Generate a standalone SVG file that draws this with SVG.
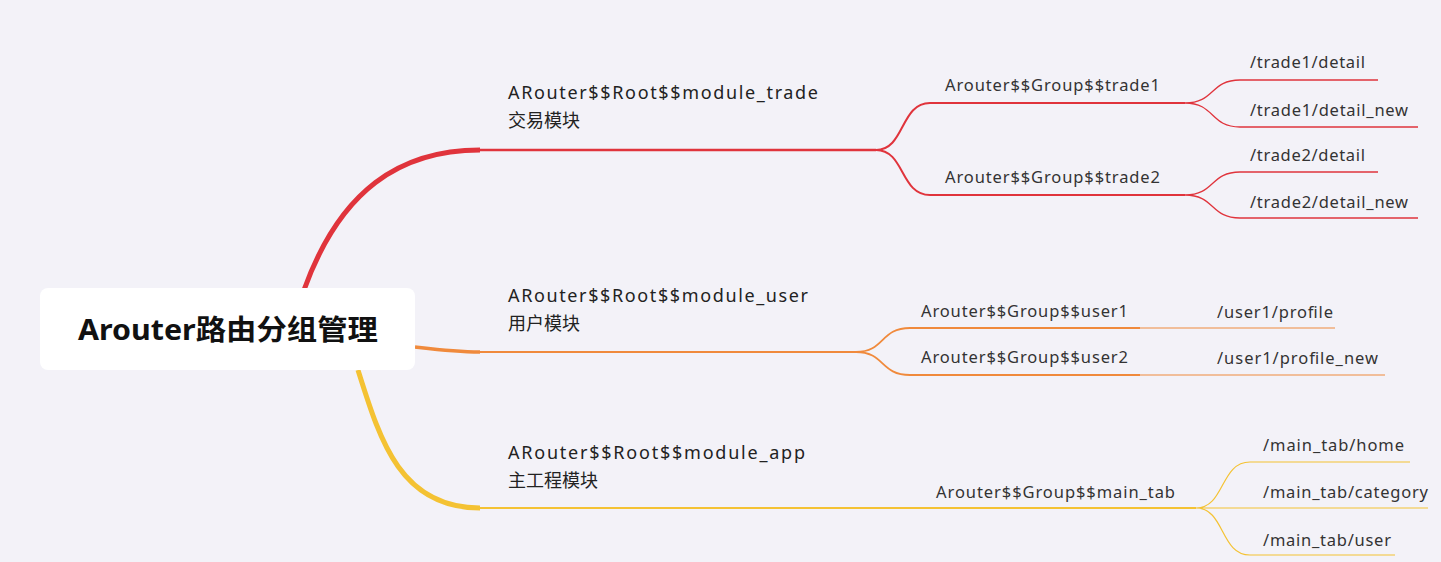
<svg xmlns="http://www.w3.org/2000/svg" width="1441" height="562" viewBox="0 0 1441 562">
<style>
text{font-family:"Noto Sans","Noto Sans CJK SC",sans-serif;fill:#222}
.m{font-size:18px}
.g{font-size:16.5px;fill:#333}
.l{font-size:16.5px;fill:#333}
.r{stroke:#e0343c;fill:none}
.o{stroke:#f08a3c;fill:none}
.y{stroke:#f4c233;fill:none}
</style>
<rect width="1441" height="562" fill="#f3f2f8"/>
<g id="connectors">
<path class="r" stroke-width="5" d="M304,290 C340,190 400,150 480,150"/>
<path class="r" stroke-width="2.5" d="M480,150 H876"/>
<path class="r" stroke-width="2" d="M876,150 C905,150 900,103 930,103 H1185 M876,150 C905,150 900,195 930,195 H1185"/>
<path class="r" stroke-width="1.3" d="M1185,103 C1215,103 1210,80 1240,80 H1378 M1185,103 C1215,103 1210,127 1240,127 H1418 M1185,195 C1215,195 1210,172 1240,172 H1378 M1185,195 C1215,195 1210,218 1240,218 H1418"/>
<path class="o" stroke-width="3.5" d="M415,347 C440,350 455,352 480,352"/>
<path class="o" stroke-width="2.2" d="M480,352 H856"/>
<path class="o" stroke-width="1.8" d="M856,352 C885,352 880,328 910,328 H1140 M856,352 C885,352 880,375 910,375 H1140"/>
<path class="o" stroke-width="1.2" d="M1140,328 H1335 M1140,375 H1385"/>
<path class="y" stroke-width="5" d="M358,370 C380,440 400,508 480,508"/>
<path class="y" stroke-width="2.2" d="M480,508 H1196"/>
<path class="y" stroke-width="1.2" d="M1196,508 C1225,508 1220,462 1250,462 H1410 M1196,508 H1428 M1196,508 C1225,508 1220,555 1250,555 H1395"/>
</g>
<g id="root">
<rect x="40" y="288" width="375" height="82" rx="8" fill="#fff"/>
<text x="78" y="340" font-size="28" font-weight="bold" textLength="300" lengthAdjust="spacingAndGlyphs" style="fill:#111">Arouter路由分组管理</text>
</g>
<g id="trade"><text class="m" x="508" y="99" textLength="310">ARouter$$Root$$module_trade</text><text class="m" x="508" y="127">交易模块</text></g>
<g id="user"><text class="m" x="508" y="302" textLength="300">ARouter$$Root$$module_user</text><text class="m" x="508" y="330">用户模块</text></g>
<g id="app"><text class="m" x="508" y="459" textLength="297">ARouter$$Root$$module_app</text><text class="m" x="508" y="487">主工程模块</text></g>
<g id="trade1"><text class="g" x="945" y="91" textLength="215">Arouter$$Group$$trade1</text></g>
<g id="trade2"><text class="g" x="945" y="183" textLength="215">Arouter$$Group$$trade2</text></g>
<g id="user1"><text class="g" x="921" y="317" textLength="207">Arouter$$Group$$user1</text></g>
<g id="user2"><text class="g" x="921" y="363" textLength="207">Arouter$$Group$$user2</text></g>
<g id="main_tab"><text class="g" x="936" y="498" textLength="239">Arouter$$Group$$main_tab</text></g>
<g id="l1"><text class="l" x="1250" y="68" textLength="115">/trade1/detail</text></g>
<g id="l2"><text class="l" x="1250" y="116" textLength="158">/trade1/detail_new</text></g>
<g id="l3"><text class="l" x="1250" y="161" textLength="115">/trade2/detail</text></g>
<g id="l4"><text class="l" x="1250" y="208" textLength="158">/trade2/detail_new</text></g>
<g id="l5"><text class="l" x="1217" y="318" textLength="116">/user1/profile</text></g>
<g id="l6"><text class="l" x="1217" y="364" textLength="161">/user1/profile_new</text></g>
<g id="l7"><text class="l" x="1263" y="451" textLength="141">/main_tab/home</text></g>
<g id="l8"><text class="l" x="1263" y="498" textLength="165">/main_tab/category</text></g>
<g id="l9"><text class="l" x="1263" y="546" textLength="128">/main_tab/user</text></g>
</svg>
